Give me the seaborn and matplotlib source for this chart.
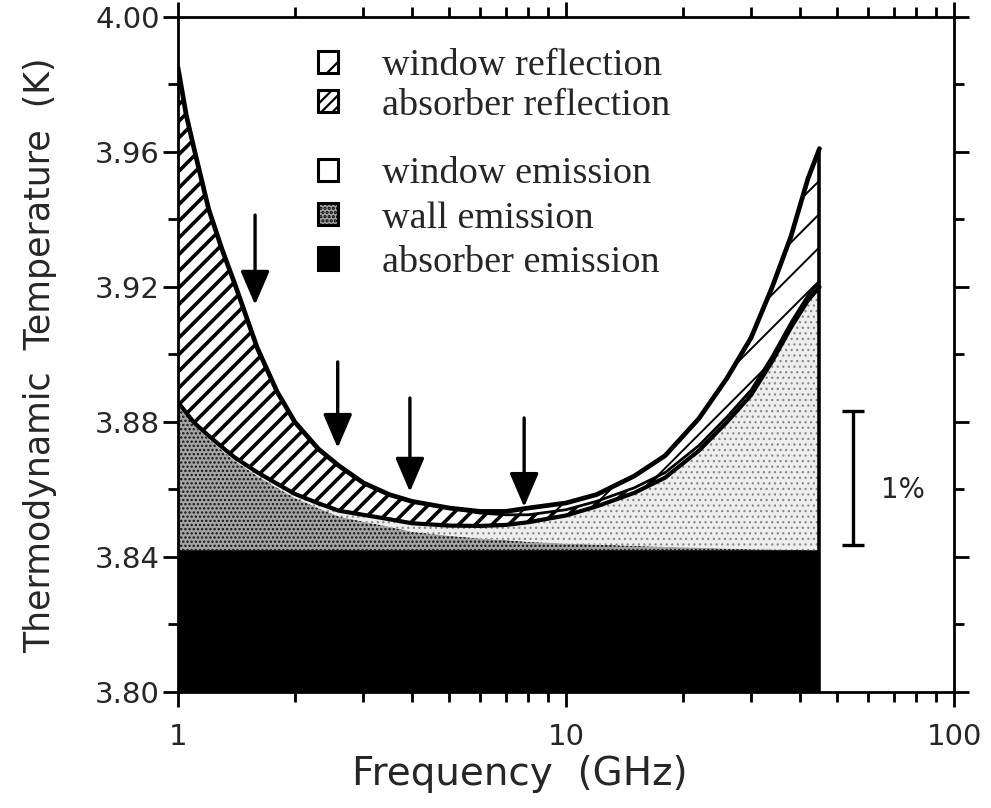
import numpy as np
import matplotlib
matplotlib.use("Agg")
import matplotlib.pyplot as plt
import seaborn as sns
from matplotlib.patches import Patch
from matplotlib.ticker import FixedLocator, FixedFormatter, NullFormatter

# ---------------- data ----------------
freq = [1, 1.05, 1.1, 1.2, 1.3, 1.4, 1.6, 1.8, 2, 2.3, 2.6, 3, 3.5, 4, 5,
        6, 7, 8, 10, 12, 15, 18, 22, 26, 30, 34, 38, 42, 45]

absorber_emission_top = [3.842] * len(freq)

wall_emission_top = [3.885, 3.882, 3.879, 3.875, 3.8715, 3.8685, 3.864, 3.8605,
                     3.8575, 3.8545, 3.852, 3.8505, 3.849, 3.8475, 3.8463,
                     3.8455, 3.845, 3.8445, 3.844, 3.8437, 3.8433, 3.843,
                     3.8428, 3.8425, 3.8423, 3.8422, 3.8421, 3.842, 3.842]

window_emission_top = [3.8858, 3.8828, 3.8798, 3.8759, 3.8725, 3.8695, 3.8651,
                       3.8617, 3.8587, 3.8559, 3.8537, 3.8525, 3.8512, 3.850,
                       3.8493, 3.8492, 3.8495, 3.8503, 3.8523, 3.855, 3.859,
                       3.8635, 3.8715, 3.880, 3.888, 3.898, 3.908, 3.916, 3.920]

absorber_reflection_top = [3.985, 3.971, 3.961, 3.943, 3.931, 3.921, 3.902,
                           3.889, 3.880, 3.872, 3.867, 3.862, 3.8585, 3.8565,
                           3.8545, 3.853, 3.8525, 3.8525, 3.854, 3.8565, 3.8605,
                           3.865, 3.873, 3.8815, 3.8895, 3.8995, 3.9095, 3.9175,
                           3.9215]

window_reflection_top = [3.985, 3.971, 3.961, 3.943, 3.931, 3.921, 3.902, 3.889,
                         3.880, 3.872, 3.867, 3.862, 3.8585, 3.8565, 3.8545,
                         3.8535, 3.8535, 3.8545, 3.856, 3.8585, 3.864, 3.870,
                         3.881, 3.893, 3.905, 3.920, 3.935, 3.952, 3.961]

labels_reflection = ["window reflection", "absorber reflection"]
labels_emission = ["window emission", "wall emission", "absorber emission"]

arrow_freq = [1.58, 2.58, 3.96, 7.8]
arrow_top = [3.9413, 3.8978, 3.8871, 3.8812]
arrow_tip = [3.9147, 3.8723, 3.8593, 3.8548]

scale_bar_freq = 54.9
scale_bar_low = 3.8436
scale_bar_high = 3.8833
scale_bar_label = "1%"

x_ticks = [1, 10, 100]
x_tick_labels = ["1", "10", "100"]
x_minor = [2, 3, 4, 5, 6, 7, 8, 9, 20, 30, 40, 50, 60, 70, 80, 90]
y_ticks = [3.80, 3.84, 3.88, 3.92, 3.96, 4.00]
y_minor = [3.82, 3.86, 3.90, 3.94, 3.98]

x_label = "Frequency  (GHz)"
y_label = "Thermodynamic  Temperature  (K)"

# ---------------- styling ----------------
sns.set_theme(style="ticks")
plt.rcParams["font.family"] = ["DejaVu Sans"]
plt.rcParams["axes.linewidth"] = 2.0
plt.rcParams["axes.edgecolor"] = "black"

fig = plt.figure(figsize=(9.91, 8.08), dpi=100)
ax = fig.add_axes([0.1796, 0.1436, 0.7831, 0.8354])
ax.set_xscale("log")

f = np.array(freq)
b0 = np.full_like(f, 3.80, dtype=float)
b1 = np.array(absorber_emission_top)
b2 = np.array(wall_emission_top)
b3 = np.array(window_emission_top)
b4 = np.array(absorber_reflection_top)
b5 = np.array(window_reflection_top)

STYLES = {
    "absorber emission": dict(face="black", hatch=None, hc="black", hlw=1.0),
    "wall emission": dict(face="#a4a4a4", hatch="....", hc="#111111", hlw=1.1),
    "window emission": dict(face="#eeeeee", hatch="...", hc="#8a8a8a", hlw=0.9),
    "absorber reflection": dict(face="white", hatch="//", hc="black", hlw=2.6),
    "window reflection": dict(face="white", hatch="/", hc="black", hlw=1.4),
}
LEGEND_STYLES = dict(STYLES)
LEGEND_STYLES["window emission"] = dict(face="white", hatch=None, hc="black", hlw=1.0)
LEGEND_STYLES["absorber reflection"] = dict(face="white", hatch="///", hc="black", hlw=2.0)


def fill(lo, hi, key):
    s = STYLES[key]
    with plt.rc_context({"hatch.linewidth": s["hlw"], "hatch.color": s["hc"]}):
        ax.fill_between(f, lo, hi, facecolor=s["face"], edgecolor=s["hc"],
                        hatch=s["hatch"], linewidth=0)


fill(b0, b1, "absorber emission")
fill(b1, b2, "wall emission")
fill(b2, b3, "window emission")
fill(b3, b4, "absorber reflection")
fill(b4, b5, "window reflection")

# boundary curves
sns.lineplot(x=f, y=b5, ax=ax, color="black", lw=3.4, estimator=None, sort=False)
sns.lineplot(x=f, y=b3, ax=ax, color="black", lw=3.0, estimator=None, sort=False)
m = f >= 5
sns.lineplot(x=f[m], y=b4[m], ax=ax, color="black", lw=2.0, estimator=None, sort=False)
ax.vlines(f[-1], 3.80, b5[-1], color="black", lw=2.6)

# arrows
for xf, yt, yp in zip(arrow_freq, arrow_top, arrow_tip):
    ax.annotate("", xy=(xf, yp), xytext=(xf, yt),
                arrowprops=dict(arrowstyle="-|>,head_length=1.05,head_width=0.45",
                                lw=2.4, color="black", mutation_scale=20,
                                shrinkA=0, shrinkB=0))

# 1% scale bar
ax.errorbar([scale_bar_freq], [(scale_bar_low + scale_bar_high) / 2],
            yerr=[(scale_bar_high - scale_bar_low) / 2], color="black",
            lw=2.4, capsize=8, capthick=2.4, fmt="none")
ax.text(73.7, 3.8599, scale_bar_label, fontsize=20, ha="center", va="center")

# axes
ax.set_xlim(1, 100)
ax.set_ylim(3.80, 4.00)
ax.xaxis.set_major_locator(FixedLocator(x_ticks))
ax.xaxis.set_major_formatter(FixedFormatter(x_tick_labels))
ax.xaxis.set_minor_locator(FixedLocator(x_minor))
ax.xaxis.set_minor_formatter(NullFormatter())
ax.yaxis.set_major_locator(FixedLocator(y_ticks))
ax.yaxis.set_major_formatter(FixedFormatter([f"{v:.2f}" for v in y_ticks]))
ax.yaxis.set_minor_locator(FixedLocator(y_minor))
ax.tick_params(which="both", direction="out", top=True, right=True,
               color="black", width=2.0, labelsize=21)
ax.tick_params(which="major", length=11)
ax.tick_params(which="minor", length=7)
ax.tick_params(axis="x", which="major", pad=11)
ax.tick_params(axis="y", which="major", pad=2)
for sp in ax.spines.values():
    sp.set_visible(True)
    sp.set_linewidth(2.0)

ax.set_xlabel(x_label, fontsize=28)
ax.set_ylabel(y_label, fontsize=25)
ax.xaxis.set_label_coords(0.44, -0.093)
ax.yaxis.set_label_coords(-0.156, 0.499)

# legends
plt.rcParams["hatch.linewidth"] = 1.6


def handle(key):
    s = LEGEND_STYLES[key]
    return Patch(facecolor=s["face"], edgecolor="black", hatch=s["hatch"], lw=2.2)


legend_font = {"family": ["Liberation Serif"], "size": 27.5}
leg1 = ax.legend([handle(k) for k in labels_reflection], labels_reflection,
                 loc="upper left", bbox_to_anchor=(0.1804, 0.953), frameon=False,
                 prop=legend_font, handlelength=0.52, handleheight=0.52,
                 handletextpad=1.15, labelspacing=0.13, borderpad=0, borderaxespad=0)
ax.add_artist(leg1)
ax.legend([handle(k) for k in labels_emission], labels_emission,
          loc="upper left", bbox_to_anchor=(0.1804, 0.793), frameon=False,
          prop=legend_font, handlelength=0.52, handleheight=0.52,
          handletextpad=1.15, labelspacing=0.26, borderpad=0, borderaxespad=0)

fig.savefig("out.png", dpi=100, facecolor="white")
